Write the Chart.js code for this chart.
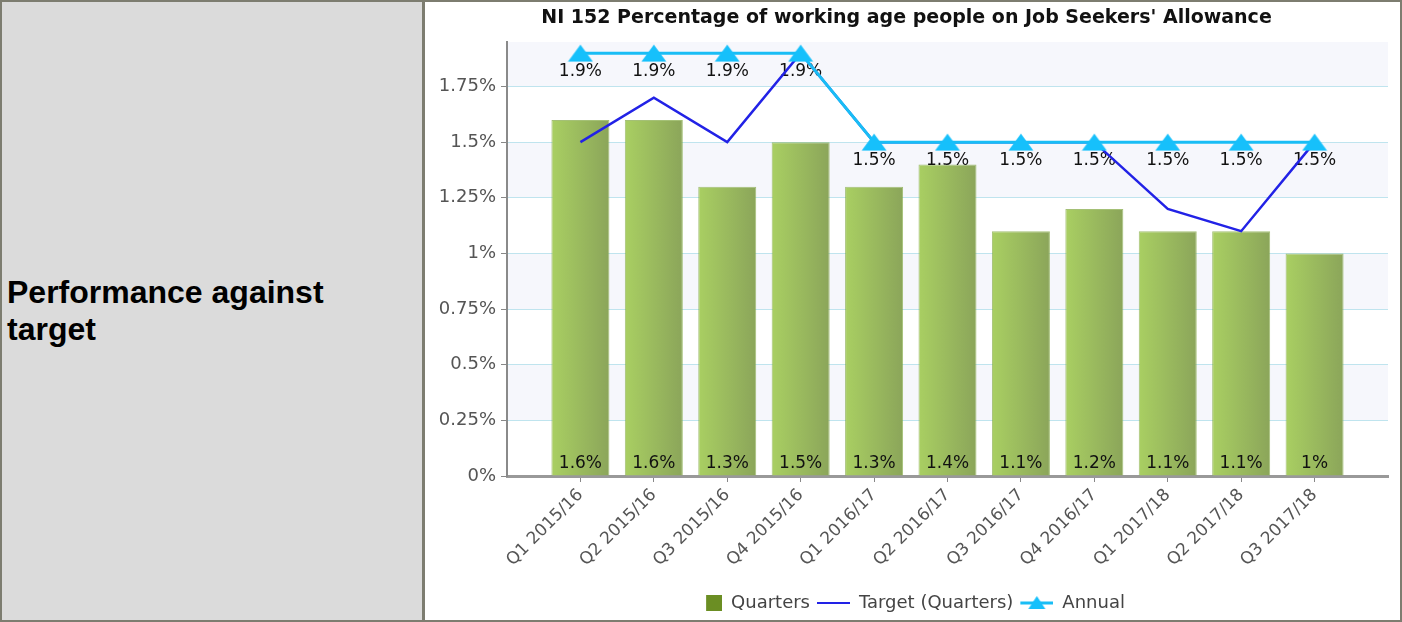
<!DOCTYPE html>
<html>
<head>
<meta charset="utf-8">
<script src="https://cdn.jsdelivr.net/npm/chart.js@4.4.1/dist/chart.umd.min.js"></script>
<style>
  body { margin: 0; background: #fff; }
  #wrap { position: absolute; left: 0; top: 0; width: 1402px; height: 622px; box-sizing: border-box; border: 2px solid #7d7d70; }
  #label { position: absolute; left: 0; top: 0; width: 423px; height: 618px; box-sizing: border-box;
           background: #dbdbdb; border-right: 3px solid #7d7d70; padding-left: 5px;
           display: flex; align-items: center;
           font: bold 32px "Liberation Sans", Arial, sans-serif; line-height: 37px; color: #000; }
  #chartBox { position: absolute; left: 423px; top: 0; width: 975px; height: 620px; }
</style>
</head>
<body>
<div id="wrap">
  <div id="label"><div>Performance against<br>target</div></div>
  <div id="chartBox"><canvas id="jsaChart" width="975" height="620"></canvas></div>
</div>
<script>
// chart data
const quarterLabels = ['Q1 2015/16', 'Q2 2015/16', 'Q3 2015/16', 'Q4 2015/16', 'Q1 2016/17', 'Q2 2016/17',
                       'Q3 2016/17', 'Q4 2016/17', 'Q1 2017/18', 'Q2 2017/18', 'Q3 2017/18'];
const quarterValues = [1.6, 1.6, 1.3, 1.5, 1.3, 1.4, 1.1, 1.2, 1.1, 1.1, 1.0];
const targetValues = [1.5, 1.7, 1.5, 1.9, 1.5, 1.5, 1.5, 1.5, 1.2, 1.1, 1.5];
const annualValues = [1.9, 1.9, 1.9, 1.9, 1.5, 1.5, 1.5, 1.5, 1.5, 1.5, 1.5];

const FONT = '"DejaVu Sans", Verdana, sans-serif';

// one empty slot each side, the original chart leaves a whole category of space at the ends
const pad = arr => [null, ...arr, null];
const xLabels = ['', ...quarterLabels, ''];

// small images used as point styles
function makeCanvas(w, h, draw) {
    const c = document.createElement('canvas');
    c.width = w; c.height = h;
    draw(c.getContext('2d'));
    return c;
}
const triangle = makeCanvas(26, 18, g => {
    g.fillStyle = '#16c0fb';
    g.beginPath(); g.moveTo(13, 0.5); g.lineTo(25.5, 17.5); g.lineTo(0.5, 17.5); g.closePath(); g.fill();
});
const legendSquare = makeCanvas(34, 18, g => {
    g.fillStyle = '#6b8e23';
    g.fillRect(18, 1, 16, 16);
});
const legendTarget = makeCanvas(34, 18, g => {
    g.strokeStyle = '#2222e6'; g.lineWidth = 2;
    g.beginPath(); g.moveTo(1, 9); g.lineTo(34, 9); g.stroke();
});
const legendAnnual = makeCanvas(34, 18, g => {
    g.strokeStyle = '#19bdf5'; g.lineWidth = 3;
    g.beginPath(); g.moveTo(1, 9); g.lineTo(34, 9); g.stroke();
    g.fillStyle = '#16c0fb';
    g.beginPath(); g.moveTo(17.5, 2); g.lineTo(26, 15); g.lineTo(9, 15); g.closePath(); g.fill();
});

// bar fill: light to darker green from left to right
function barFill(ctx) {
    const chart = ctx.chart;
    if (ctx.dataIndex === undefined || !chart.chartArea) return '#98b85c';
    const x = chart.scales.x.getPixelForValue(ctx.dataIndex);
    const g = chart.ctx.createLinearGradient(x - 29, 0, x + 29, 0);
    g.addColorStop(0, '#a9cf62');
    g.addColorStop(1, '#8ba55a');
    return g;
}

// alternating light bands behind the plot
const bandPlugin = {
    id: 'bands',
    beforeDraw(chart) {
        const { ctx, chartArea: a, scales: { y } } = chart;
        ctx.save();
        ctx.fillStyle = '#f6f7fc';
        for (let k = 1; k * 0.25 < y.max; k += 2) {
            const top = y.getPixelForValue(Math.min((k + 1) * 0.25, y.max));
            const bot = y.getPixelForValue(k * 0.25);
            ctx.fillRect(a.left, top, a.right - a.left, bot - top);
        }
        ctx.restore();
    }
};

// value labels, drawn right after the bars so the lines pass over them
const valueLabels = {
    id: 'valueLabels',
    afterDatasetDraw(chart, args) {
        if (args.index !== 0) return;
        const ctx = chart.ctx;
        ctx.save();
        ctx.font = '17px ' + FONT;
        ctx.fillStyle = '#111';
        ctx.textAlign = 'center';
        ctx.textBaseline = 'middle';
        chart.getDatasetMeta(0).data.forEach((el, i) => {
            const v = chart.data.datasets[0].data[i];
            if (v == null) return;
            ctx.fillText(v + '%', el.x, el.base - 12);
        });
        chart.getDatasetMeta(2).data.forEach((el, i) => {
            const v = chart.data.datasets[2].data[i];
            if (v == null) return;
            ctx.fillText(v + '%', el.x, el.y + 18);
        });
        ctx.restore();
    }
};

const legendImages = [legendSquare, legendTarget, legendAnnual];

new Chart(document.getElementById('jsaChart'), {
    type: 'bar',
    data: {
        labels: xLabels,
        datasets: [
            {
                label: 'Quarters',
                data: pad(quarterValues),
                backgroundColor: barFill,
                borderColor: 'rgba(125,165,60,0.7)',
                borderWidth: 1,
                categoryPercentage: 0.79,
                barPercentage: 1,
                order: 3
            },
            {
                type: 'line',
                label: 'Target (Quarters)',
                data: pad(targetValues),
                borderColor: '#2222e6',
                borderWidth: 2.5,
                pointRadius: 0,
                tension: 0,
                order: 2
            },
            {
                type: 'line',
                label: 'Annual',
                data: pad(annualValues),
                borderColor: '#19bdf5',
                borderWidth: 3,
                pointStyle: triangle,
                pointRadius: 9,
                tension: 0,
                order: 1
            }
        ]
    },
    options: {
        responsive: false,
        animation: false,
        layout: { padding: { left: 0, right: 12, top: 0, bottom: 0 } },
        plugins: {
            title: {
                display: true,
                text: "NI 152 Percentage of working age people on Job Seekers' Allowance",
                color: '#111',
                font: { family: FONT, size: 19, weight: 'bold' },
                padding: { top: 5, bottom: 12.2 }
            },
            legend: {
                position: 'bottom',
                labels: {
                    usePointStyle: true,
                    pointStyleWidth: 34,
                    padding: 6,
                    color: '#444',
                    font: { family: FONT, size: 18 },
                    generateLabels: chart => chart.data.datasets.map((ds, i) => ({
                        text: ds.label,
                        pointStyle: legendImages[i],
                        fontColor: '#444',
                        datasetIndex: i,
                        lineWidth: 0
                    }))
                }
            },
            tooltip: { enabled: false }
        },
        scales: {
            x: {
                offset: false,
                afterFit: s => { s.height = 112; s.paddingLeft = 0; s.paddingRight = 0; },
                border: { color: '#999', width: 3 },
                grid: {
                    offset: false,
                    drawOnChartArea: false,
                    tickLength: 6,
                    tickColor: c => (c.index === 0 || c.index === xLabels.length - 1) ? 'rgba(0,0,0,0)' : '#888'
                },
                ticks: {
                    autoSkip: false,
                    minRotation: 45,
                    maxRotation: 45,
                    color: '#555',
                    font: { family: FONT, size: 17 }
                }
            },
            y: {
                min: 0,
                max: 1.95,
                afterFit: s => { s.width = 82; },
                border: { color: '#8a8a8a', width: 2 },
                grid: { color: '#bfe4ee', tickColor: '#888', tickLength: 6 },
                ticks: {
                    stepSize: 0.25,
                    includeBounds: false,
                    padding: 5,
                    color: '#555',
                    font: { family: FONT, size: 18 },
                    callback: v => +v.toFixed(2) + '%'
                }
            }
        }
    },
    plugins: [bandPlugin, valueLabels]
});
</script>
</body>
</html>
